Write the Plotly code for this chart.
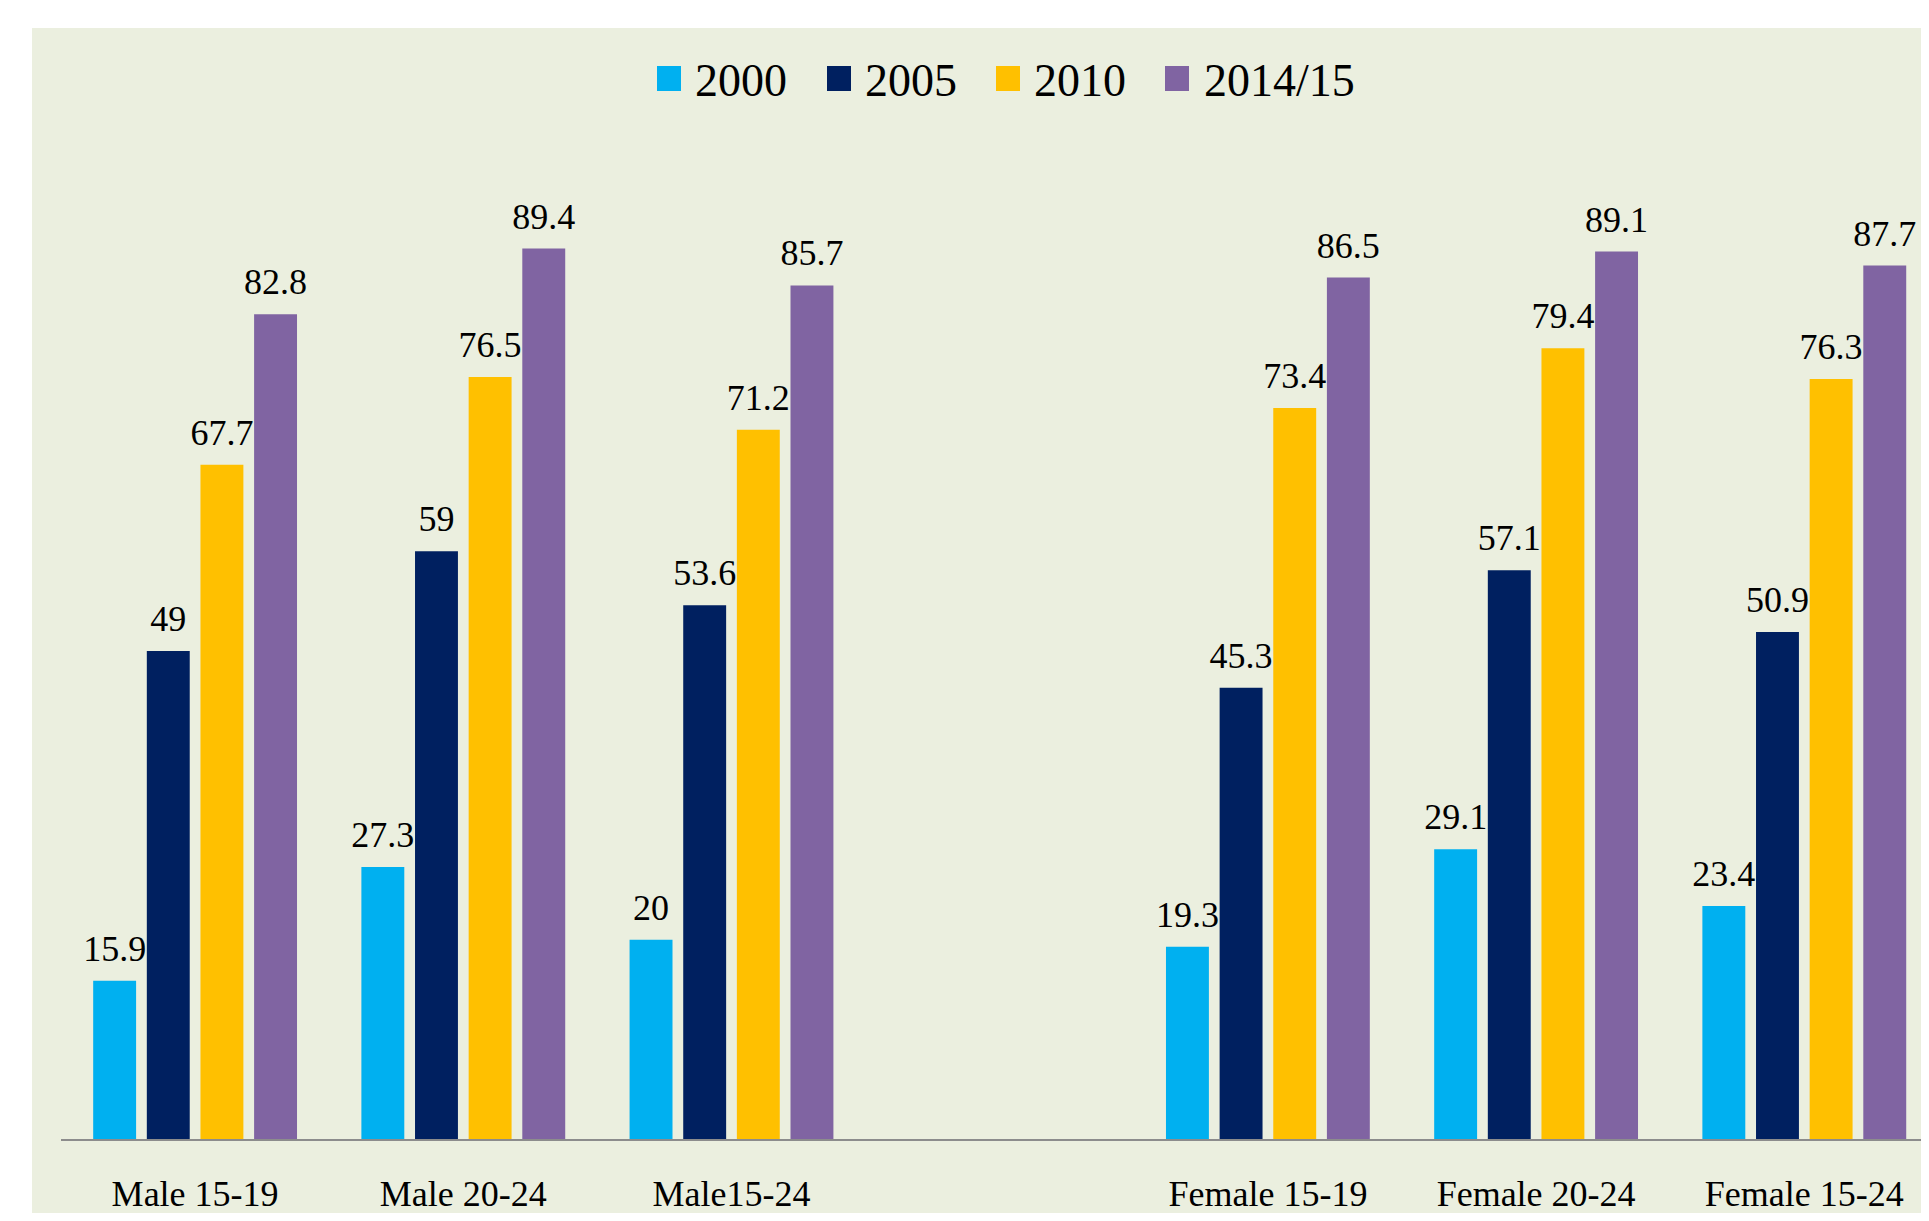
import plotly.graph_objects as go

categories = ["Male 15-19", "Male 20-24", "Male15-24", " ", "Female 15-19", "Female 20-24", "Female 15-24"]
series_names = ["2000", "2005", "2010", "2014/15"]
v2000 = [15.9, 27.3, 20, None, 19.3, 29.1, 23.4]
v2005 = [49, 59, 53.6, None, 45.3, 57.1, 50.9]
v2010 = [67.7, 76.5, 71.2, None, 73.4, 79.4, 76.3]
v2014 = [82.8, 89.4, 85.7, None, 86.5, 89.1, 87.7]
colors = ["#00B0F0", "#002060", "#FFC000", "#8064A2"]

OFF = 8  # page body margin added by the browser
W, H = 1929 - OFF, 1221 - 2 * OFF
ML, MR, MB = 61 - OFF, 0, 1221 - 1139 - OFF
PH = 996
MT = H - MB - PH
PW = W - ML - MR
BG = "#EBEFDF"
FONT = "Times New Roman, Liberation Serif, serif"
LABEL_PAD = 0.9  # extra gap (axis units) between bar top and its value label
CAT_PX = 268.2   # pixel width of one category


def px_x(px):
    # page x -> paper
    return (px - OFF - ML) / PW


def px_y(py):
    # page y -> paper
    return (H - MB - (py - OFF)) / PH


fig = go.Figure()
for i, (name, vals, col) in enumerate(zip(series_names, [v2000, v2005, v2010, v2014], colors)):
    fig.add_trace(go.Bar(
        x=categories, y=vals, name=name, offsetgroup=str(i),
        marker=dict(color=col, line=dict(width=0)),
        showlegend=False,
    ))
for i, (name, vals) in enumerate(zip(series_names, [v2000, v2005, v2010, v2014])):
    fig.add_trace(go.Bar(
        x=categories,
        y=[None if v is None else LABEL_PAD for v in vals],
        base=vals, name=name + " labels", offsetgroup=str(i),
        marker=dict(color="rgba(0,0,0,0)", line=dict(width=0)),
        text=[("" if v is None else ("%g" % v)) for v in vals],
        textposition="outside",
        textfont=dict(family=FONT, size=36, color="black"),
        constraintext="none",
        cliponaxis=False,
        showlegend=False,
        hoverinfo="skip",
    ))

shapes = [
    dict(type="rect", xref="paper", yref="paper", layer="below",
         x0=px_x(32), x1=px_x(1929 + 20), y0=px_y(1221 + 20), y1=px_y(28),
         fillcolor=BG, line=dict(width=0)),
]
annotations = []
leg_sq_x = [657, 827, 996, 1165]
leg_tx_x = [693, 863, 1032, 1202]
for name, col, sx, tx in zip(series_names, colors, leg_sq_x, leg_tx_x):
    shapes.append(dict(type="rect", xref="paper", yref="paper",
                       x0=px_x(sx), x1=px_x(sx + 24), y0=px_y(91), y1=px_y(66),
                       fillcolor=col, line=dict(width=0)))
    annotations.append(dict(xref="paper", yref="paper", x=px_x(tx), y=px_y(80),
                            xanchor="left", yanchor="middle", showarrow=False,
                            text=name, font=dict(family=FONT, size=46, color="black")))

fig.update_layout(
    width=W, height=H,
    margin=dict(l=ML, r=MR, t=MT, b=MB, pad=0),
    paper_bgcolor="white",
    plot_bgcolor="rgba(0,0,0,0)",
    barmode="group",
    bargap=0.2,
    bargroupgap=0.2,
    shapes=shapes,
    annotations=annotations,
    xaxis=dict(
        type="category", range=[-0.5, -0.5 + PW / CAT_PX],
        showline=True, linecolor="#8C8C8C", linewidth=2,
        ticks="", showgrid=False, zeroline=False,
        tickfont=dict(family=FONT, size=36, color="black"),
        ticklabelstandoff=22,
    ),
    yaxis=dict(range=[0, 100], visible=False, showgrid=False, zeroline=False),
    font=dict(family=FONT),
)

fig.write_html("out.html")
